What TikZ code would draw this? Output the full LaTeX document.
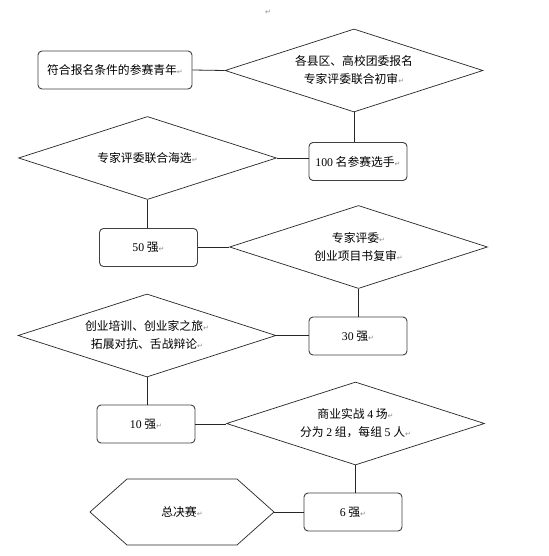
\documentclass[tikz,border=0pt]{standalone}
\usepackage{fontspec}
\setmainfont{Liberation Serif}
\newfontfamily\cjk{Noto Sans CJK SC}
\newfontfamily\markfont{DejaVu Sans}
\usetikzlibrary{shapes.geometric}
\newcommand{\retmark}{{\markfont\fontsize{7}{7}\selectfont\color{black!45}\char"21B5}}
\newcommand{\dg}[1]{{\rmfamily #1}}
\begin{document}
\begin{tikzpicture}[x=1pt,y=-1pt,
  txt/.style={font=\cjk\fontsize{11.8}{18}\selectfont, align=center, inner sep=0pt},
  box/.style={txt, draw=black!75, line width=0.9pt, rounded corners=4pt, minimum width=98pt, minimum height=38pt},
  dia/.style={txt, diamond, shape aspect=3.11, draw=black!85, line width=0.7pt, minimum width=258pt, minimum height=83pt},
  link/.style={draw=black!85, line width=0.8pt}]
\useasboundingbox (0,0) rectangle (548,556);
\fill[white] (0,0) rectangle (548,556);

\node[txt] (topmark) at (268,12) {\retmark};

\node[box, minimum width=154pt] (box1) at (115,70) {符合报名条件的参赛青年\retmark};
\node[dia] (d1) at (354,70.5) {各县区、高校团委报名\\专家评委联合初审\retmark};
\node[box] (box2) at (358,161.5) {\dg{100} 名参赛选手\retmark};
\node[dia] (d2) at (147.5,158) {专家评委联合海选\retmark};
\node[box] (box3) at (148.5,247.5) {\dg{50} 强\retmark};
\node[dia] (d3) at (358.5,247) {专家评委\retmark\\创业项目书复审\retmark};
\node[box] (box4) at (358,336) {\dg{30} 强\retmark};
\node[dia] (d4) at (147,335.5) {创业培训、创业家之旅\retmark\\拓展对抗、舌战辩论\retmark};
\node[box] (box5) at (146,424) {\dg{10} 强\retmark};
\node[dia] (d5) at (355.5,423.5) {商业实战 \dg{4} 场\retmark\\分为 \dg{2} 组，每组 \dg{5} 人\retmark};
\node[box] (box6) at (353,512) {\dg{6} 强\retmark};

\node[txt] (fin) at (182,512) {总决赛\retmark};
\draw[draw=black!85, line width=0.7pt] (90,512) -- (127,479) -- (237,479) -- (274,512) -- (237,545) -- (127,545) -- cycle;
\coordinate (hexR) at (274,512);

\draw[link] (box1.east) -- (d1.west);
\draw[link] (d1.south) -- (d1.south |- box2.north);
\draw[link] (d2.east) -- (d2.east -| box2.west);
\draw[link] (d2.south) -- (d2.south |- box3.north);
\draw[link] (box3.east) -- (box3.east -| d3.west);
\draw[link] (d3.south) -- (d3.south |- box4.north);
\draw[link] (d4.east) -- (d4.east -| box4.west);
\draw[link] (d4.south) -- (d4.south |- box5.north);
\draw[link] (box5.east) -- (box5.east -| d5.west);
\draw[link] (d5.south) -- (d5.south |- box6.north);
\draw[link] (hexR) -- (box6.west);
\end{tikzpicture}
\end{document}
